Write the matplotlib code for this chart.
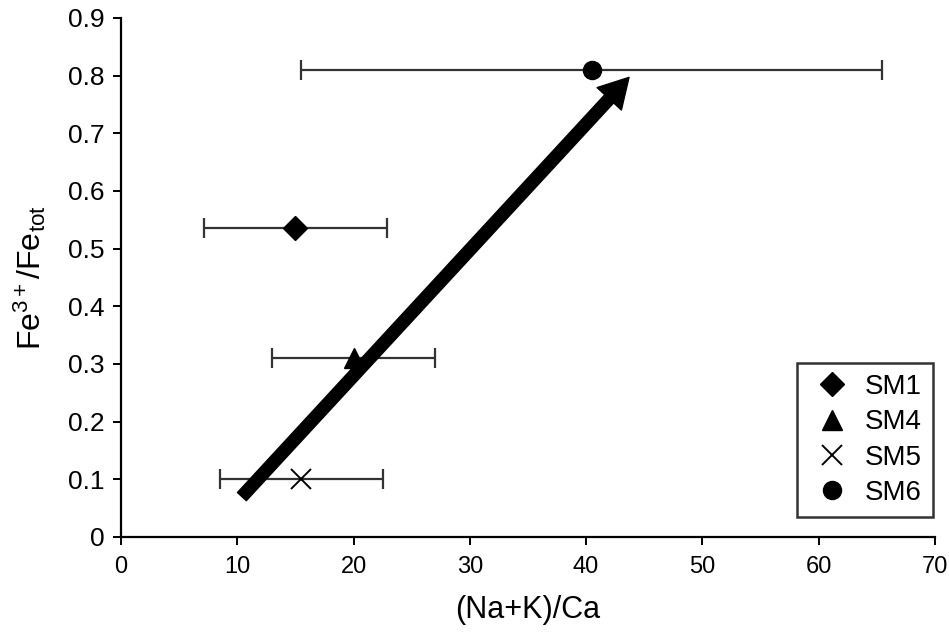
import matplotlib
matplotlib.use("Agg")
import matplotlib.pyplot as plt
from matplotlib.lines import Line2D

# Font setup: Arial-like text everywhere, including the math labels
plt.rcParams["font.family"] = ["Liberation Sans", "DejaVu Sans"]
plt.rcParams["mathtext.fontset"] = "custom"
plt.rcParams["mathtext.rm"] = "Liberation Sans"
plt.rcParams["mathtext.it"] = "Liberation Sans"

# Samples: (Na+K)/Ca ratio, Fe3+/Fetot ratio and the error on the ratio
samples = ["SM1", "SM4", "SM5", "SM6"]
ratio_nak_ca = [15.0, 20.0, 15.5, 40.5]
fe3_fetot = [0.535, 0.31, 0.10, 0.81]
ratio_err = [7.9, 7.0, 7.0, 25.0]
markers = ["D", "^", "x", "o"]
marker_sizes = [12.5, 14, 15, 13]

# Trend arrow (from low to high oxidation)
arrow_start = [10.4, 0.07]
arrow_end = [43.7, 0.797]

fig = plt.figure(figsize=(9.49, 6.33), dpi=100)
ax = fig.add_axes([0.1275, 0.1517, 0.8575, 0.8199])

for name, x, y, err, m, ms in zip(samples, ratio_nak_ca, fe3_fetot, ratio_err, markers, marker_sizes):
    ax.errorbar(x, y, xerr=err, fmt="none", ecolor="#333333", elinewidth=1.6,
                capsize=7.5, capthick=1.6, zorder=2)
    ax.plot(x, y, marker=m, markersize=ms, color="black", markeredgewidth=1.4 if m == "x" else 1,
            linestyle="none", zorder=3)

# Thick black arrow showing the trend
ax.annotate("", xy=arrow_end, xytext=arrow_start,
            arrowprops=dict(arrowstyle="simple,head_length=1.5,head_width=1.7,tail_width=0.62",
                            mutation_scale=14, color="black", shrinkA=0, shrinkB=0),
            zorder=4)

ax.set_xlim(0, 70)
ax.set_ylim(0, 0.9)
ax.set_xticks(range(0, 71, 10))
ax.set_yticks([i / 10 for i in range(10)])
ax.set_yticklabels(["0"] + [f"{i / 10:.1f}" for i in range(1, 10)])

ax.spines["top"].set_visible(False)
ax.spines["right"].set_visible(False)
for s in ["left", "bottom"]:
    ax.spines[s].set_linewidth(1.6)
ax.tick_params(axis="both", direction="out", length=6, width=1.4, colors="black")
ax.tick_params(axis="y", labelsize=19, pad=6)
ax.tick_params(axis="x", labelsize=17, pad=8)

ax.set_xlabel("(Na+K)/Ca", fontsize=22, labelpad=12)
ax.set_ylabel(r"Fe$^{3+}$/Fe$_{\mathrm{tot}}$", fontsize=23, labelpad=14)

handles = [Line2D([], [], marker=m, color="black", linestyle="none", markersize=ms,
                  markeredgewidth=1.4 if m == "x" else 1)
           for m, ms in zip(markers, marker_sizes)]
leg = ax.legend(handles, samples, loc="lower right", bbox_to_anchor=(0.998, 0.038),
                fontsize=20, frameon=True, fancybox=False, handletextpad=0.35,
                labelspacing=0.34, borderpad=0.4, handlelength=1.7, borderaxespad=0.0)
leg.get_frame().set_edgecolor("black")
leg.get_frame().set_linewidth(1.8)

fig.savefig("out.png", dpi=100, facecolor="white")
